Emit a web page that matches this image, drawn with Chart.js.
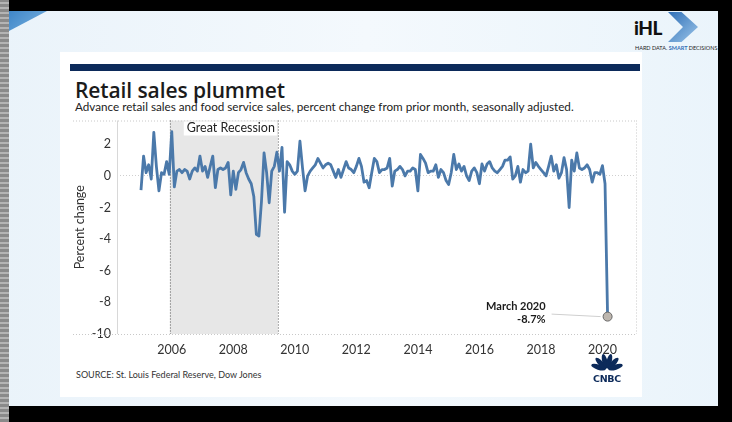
<!DOCTYPE html>
<html>
<head>
<meta charset="utf-8">
<script src="https://cdn.jsdelivr.net/npm/chart.js@4.4.1/dist/chart.umd.min.js"></script>
<style>
  html, body { margin: 0; padding: 0; }
  body { width: 732px; height: 422px; position: relative; overflow: hidden;
         background: linear-gradient(90deg, #eaf3fa 0%, #f4f9fd 50%, #eaf4fb 100%);
         font-family: Lato, "Open Sans", sans-serif; }
  .blk { position: absolute; background: #000; }
  .strip { position: absolute; left: 0; top: 0; width: 9px; height: 422px;
           background: repeating-linear-gradient(0deg, #8a8a8a 0 3px, #b4b4b4 3px 5px); }
  .tri { position: absolute; left: 9px; top: 11px; width: 38px; height: 20px;
         background: linear-gradient(135deg, #3f86c8, #79b2e0);
         clip-path: polygon(0 0, 100% 0, 0 100%); }
  .card { position: absolute; left: 60px; top: 52px; width: 582px; height: 345px; background: #fff; }
  .navy { position: absolute; left: 70px; top: 64px; width: 570px; height: 7px; background: #0c2a5a; }
  .title { position: absolute; left: 75px; top: 76px; font: 600 21px "Open Sans", sans-serif; color: #1b1b1b; letter-spacing: -0.1px; }
  .sub { position: absolute; left: 75px; top: 99px; font-size: 11.7px; color: #222; }
  .src { position: absolute; left: 76px; top: 369px; font-size: 9px; color: #333; }
  #wrap { position: absolute; left: 60px; top: 107px; width: 590px; height: 257px; }
  .ihl { position: absolute; left: 634px; top: 16px; font: 900 19px Lato, sans-serif; color: #111; letter-spacing: -0.5px; }
  .chev { position: absolute; left: 668px; top: 12px; width: 30px; height: 30px;
          background: linear-gradient(135deg, #2f6fb6, #9cc6ea);
          clip-path: polygon(0 0, 45% 0, 100% 50%, 45% 100%, 0 100%, 50% 50%); }
  .tag { position: absolute; left: 635px; top: 45px; font-size: 5.5px; color: #222; white-space: nowrap; }
  .tag b { color: #2f6fb6; }
  .cnbc { position: absolute; left: 590px; top: 352px; width: 34px; }
  .cnbc div { font: 900 9.5px "DejaVu Sans", sans-serif; color: #0c2a5a; text-align: center; margin-top: -2px; letter-spacing: -0.3px; }
</style>
</head>
<body>
<div class="blk" style="left:0;top:0;width:732px;height:11px"></div>
<div class="blk" style="left:0;top:406px;width:732px;height:16px"></div>
<div class="blk" style="left:718px;top:0;width:14px;height:422px"></div>
<div class="strip"></div>
<div class="tri"></div>
<div class="ihl">iHL</div>
<div class="chev"></div>
<div class="tag">HARD DATA. <b>SMART</b> DECISIONS</div>
<div class="card"></div>
<div class="navy"></div>
<div class="title">Retail sales plummet</div>
<div class="sub">Advance retail sales and food service sales, percent change from prior month, seasonally adjusted.</div>
<div id="wrap"><canvas id="c"></canvas></div>
<div class="src">SOURCE: St. Louis Federal Reserve, Dow Jones</div>
<div class="cnbc">
  <svg width="34" height="20" viewBox="0 0 34 20">
    <g fill="#0c2a5a">
      <ellipse cx="17" cy="9" rx="2.6" ry="7.5" transform="rotate(-72 17 18)"/>
      <ellipse cx="17" cy="9" rx="2.6" ry="7.5" transform="rotate(-43 17 18)"/>
      <ellipse cx="17" cy="9" rx="2.6" ry="7.5" transform="rotate(-14 17 18)"/>
      <ellipse cx="17" cy="9" rx="2.6" ry="7.5" transform="rotate(14 17 18)"/>
      <ellipse cx="17" cy="9" rx="2.6" ry="7.5" transform="rotate(43 17 18)"/>
      <ellipse cx="17" cy="9" rx="2.6" ry="7.5" transform="rotate(72 17 18)"/>
    </g>
  </svg>
  <div>CNBC</div>
</div>
<script>
// monthly % change, Jan 2005 .. Mar 2020
const startYear = 2005
const values = [
  -0.9, 1.25, 0.2, 0.7, -0.2, 2.75, 0.6, -0.95, 0.2, 0.1, 0.9, 0.1,     // 2005
  2.8, -0.7, 0.3, 0.4, 0.2, 0.4, 0.3, -0.2, 0.3, 0.5, 0.3, 1.25,        // 2006
  0.3, 0.6, -0.1, 0.6, 1.25, -0.75, 0.4, 0.5, 0.4, 0.5, 0.85, -1.2,     // 2007
  0.3, -0.85, 0.2, 0.4, 0.85, 0.2, -0.2, -0.5, -1.3, -3.7, -3.8, -1.6,  // 2008
  1.45, 0.2, -1.7, 0.3, 0.6, 1.5, 0.3, 1.8, -2.3, 0.9, 0.7, 0.3,        // 2009
  0.1, 0.3, 2.2, 0.5, -0.95, 0.0, 0.3, 0.5, 0.7, 1.1, 0.8, 0.5,         // 2010
  0.7, 0.8, 0.7, 0.3, -0.1, 0.4, -0.1, 0.4, 0.9, 0.5, 0.4, 0.2,         // 2011
  0.6, 1.1, 0.6, -0.4, -0.3, -0.75, 0.2, 1.1, 0.9, 0.2, 0.4, 0.4,       // 2012
  0.5, 1.1, -0.65, 0.3, 0.4, 0.6, 0.4, 0.0, 0.3, 0.3, 0.5, 0.4,         // 2013
  -0.95, 1.35, 1.1, 0.8, 0.2, 0.3, 0.3, 0.7, -0.1, 0.4, 0.2, -0.3,      // 2014
  -0.55, 0.2, 1.35, 0.4, 0.75, 0.3, 0.6, 0.0, -0.3, 0.3, 0.5, 0.2,      // 2015
  -0.5, 0.75, 0.3, 0.75, 0.9, 0.5, 0.3, 0.2, 0.4, 0.6, 1.0, 1.0,        // 2016
  1.2, -0.2, 0.0, 0.6, -0.4, 0.4, 0.2, 0.3, 2.0, 0.5, 0.85, 0.6,        // 2017
  0.4, 0.2, 0.0, 0.6, 1.25, 0.3, 0.7, -0.15, 0.2, 1.15, 0.4, -2.0,      // 2018
  1.0, 0.3, 1.45, 0.5, 0.4, 0.5, 0.7, 0.4, -0.4, 0.2, 0.2, 0.1,         // 2019
  0.65, -0.5, -8.9                                                      // 2020
]
const xTicks = [2006, 2008, 2010, 2012, 2014, 2016, 2018, 2020]
const yTicks = [-10, -8, -6, -4, -2, 0, 2]
const recession = [2005.94, 2009.45]
const recessionLabel = 'Great Recession'
const lastLabel = ['March 2020', '-8.7%']

const points = values.map((v, i) => ({ x: startYear + i / 12, y: v }))
const last = points.length - 1
const FONT = 'Lato, "Open Sans", sans-serif'

const decor = {
  id: 'decor',
  beforeDatasetsDraw (chart) {
    const { ctx, chartArea: a, scales: { x } } = chart
    const x0 = x.getPixelForValue(recession[0])
    const x1 = x.getPixelForValue(recession[1])
    ctx.save()
    ctx.fillStyle = '#e7e7e7'
    ctx.fillRect(x0, a.top, x1 - x0, a.bottom - a.top)
    ctx.lineWidth = 1
    ctx.setLineDash([1, 2])
    ctx.strokeStyle = '#555'
    ctx.beginPath()
    ctx.moveTo(x0 + 0.5, a.top); ctx.lineTo(x0 + 0.5, a.bottom)
    ctx.moveTo(x1 + 0.5, a.top); ctx.lineTo(x1 + 0.5, a.bottom)
    ctx.stroke()
    // frame
    ctx.strokeStyle = '#c8c8c8'
    ctx.beginPath()
    ctx.moveTo(13, a.top + 0.5); ctx.lineTo(a.right, a.top + 0.5)
    ctx.moveTo(13, a.bottom + 0.5); ctx.lineTo(a.right, a.bottom + 0.5)
    ctx.moveTo(a.right + 0.5, a.top); ctx.lineTo(a.right + 0.5, a.bottom)
    ctx.stroke()
    ctx.setLineDash([])
    ctx.strokeStyle = '#d8d8d8'
    ctx.beginPath()
    ctx.moveTo(a.left + 0.5, a.top); ctx.lineTo(a.left + 0.5, a.bottom)
    ctx.stroke()
    // recession label
    ctx.font = '12.5px ' + FONT
    const w = ctx.measureText(recessionLabel).width
    ctx.fillStyle = '#fff'
    ctx.fillRect(x1 - w - 6, a.top + 1, w + 5, 14)
    ctx.fillStyle = '#222'
    ctx.textAlign = 'right'
    ctx.textBaseline = 'middle'
    ctx.fillText(recessionLabel, x1 - 3, a.top + 7)
    ctx.restore()
  },
  afterDatasetsDraw (chart) {
    const { ctx } = chart
    const p = chart.getDatasetMeta(0).data[last]
    ctx.save()
    ctx.strokeStyle = '#cfcfcf'
    ctx.lineWidth = 1
    ctx.beginPath()
    ctx.moveTo(p.x - 56, p.y - 2.5)
    ctx.lineTo(p.x - 7, p.y)
    ctx.stroke()
    ctx.fillStyle = '#1b1b1b'
    ctx.font = 'bold 11px ' + FONT
    ctx.textAlign = 'right'
    ctx.textBaseline = 'middle'
    ctx.fillText(lastLabel[0], p.x - 62, p.y - 10)
    ctx.fillText(lastLabel[1], p.x - 62, p.y + 3)
    ctx.restore()
  }
}

new Chart(document.getElementById('c'), {
  type: 'line',
  data: {
    datasets: [{
      data: points,
      borderColor: '#4b79aa',
      borderWidth: 2.8,
      borderJoinStyle: 'round',
      tension: 0,
      pointRadius: (c) => c.dataIndex === last ? 4.5 : 0,
      pointBackgroundColor: '#bdb6ae',
      pointBorderColor: '#666',
      pointBorderWidth: 1
    }]
  },
  options: {
    responsive: true,
    maintainAspectRatio: false,
    animation: false,
    layout: { padding: { top: 3, right: 14, left: 0, bottom: 0 } },
    plugins: { legend: { display: false }, tooltip: { enabled: false } },
    scales: {
      x: {
        type: 'linear',
        min: 2004.22,
        max: 2021.09,
        afterBuildTicks: (s) => { s.ticks = xTicks.map(v => ({ value: v })) },
        afterFit: (s) => { s.height = 30 },
        grid: { display: false, drawTicks: false },
        border: { display: false },
        ticks: { padding: 8, color: '#333', font: { family: FONT, size: 12.5 }, callback: (v) => String(v), maxRotation: 0 }
      },
      y: {
        min: -10,
        max: 3.5,
        afterBuildTicks: (s) => { s.ticks = yTicks.map(v => ({ value: v })) },
        afterFit: (s) => { s.width = 57 },
        grid: {
          drawTicks: false,
          color: (c) => c.tick && c.tick.value === 0 ? '#cfcfcf' : 'rgba(0,0,0,0)'
        },
        border: { display: false, dash: [1, 2] },
        ticks: { padding: 6, color: '#333', font: { family: FONT, size: 12.5 } },
        title: { display: true, text: 'Percent change', color: '#333', font: { family: FONT, size: 12.5 }, padding: { top: 12, bottom: 0 } }
      }
    }
  },
  plugins: [decor]
})
</script>
</body>
</html>
